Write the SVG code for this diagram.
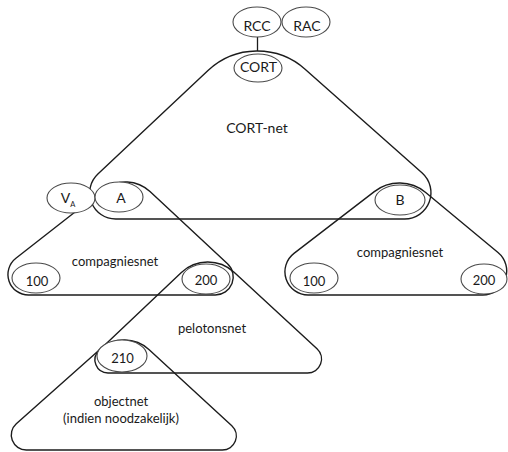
<svg xmlns="http://www.w3.org/2000/svg" width="508" height="452" viewBox="0 0 508 452">
  <style>
    .net { fill: none; stroke: #1c1c1c; stroke-width: 1.4; stroke-linejoin: round; }
    .stn { fill: #ffffff; stroke: #4a4a4a; stroke-width: 1.1; }
    .lbl { font-family: Lato, "Open Sans", "Liberation Sans", sans-serif; fill: #1a1a1a; text-anchor: middle; }
    .big { font-size: 14px; }
    .mid { font-size: 13px; }
    .sub { font-size: 7.5px; }
    .conn { stroke: #1c1c1c; stroke-width: 1.3; fill: none; }
  </style>

  <rect width="508" height="452" fill="#ffffff"/>

  <!-- network areas (rounded triangles) -->
  <g id="cort-net">
    <path class="net" d="M 208 70.5 A 72 72 0 0 1 305.1 69.2 L 422.2 173.1 A 26.3 26.3 0 0 1 404.7 219 L 115.7 219 A 26 26 0 0 1 97.9 174 Z"/>
    <text class="lbl big" x="257" y="133">CORT-net</text>
  </g>
  <g id="compagniesnet-a">
    <path class="net" d="M 103.8 189.5 A 35.6 35.6 0 0 1 150 191.6 L 227.5 263.8 A 18 18 0 0 1 215.2 295 L 28.5 295 A 20.5 20.5 0 0 1 15.9 258.3 Z"/>
    <text class="lbl mid" x="115" y="266">compagniesnet</text>
  </g>
  <g id="compagniesnet-b">
    <path class="net" d="M 374.3 191.6 A 41.2 41.2 0 0 1 425.7 192.5 L 498 252.5 A 24 24 0 0 1 482.7 295 L 308.2 295 A 23.2 23.2 0 0 1 294 253.4 Z"/>
    <text class="lbl mid" x="400" y="257">compagniesnet</text>
  </g>
  <g id="pelotonsnet">
    <path class="net" d="M 181.1 272.7 A 38.8 38.8 0 0 1 234.1 272.3 L 317 348.7 A 14 14 0 0 1 307.5 373 L 108 373 A 13 13 0 0 1 99 350.6 Z"/>
    <text class="lbl mid" x="212" y="333">pelotonsnet</text>
  </g>
  <g id="objectnet">
    <path class="net" d="M 100.1 349.3 A 36.6 36.6 0 0 1 149.2 349.7 L 231.8 425.7 A 14 14 0 0 1 222.3 450 L 26.3 450 A 15 15 0 0 1 16.3 423.8 Z"/>
    <text class="lbl mid" x="121" y="406">objectnet</text>
    <text class="lbl mid" x="121" y="423">(indien noodzakelijk)</text>
  </g>

  <!-- connectors -->
  <g id="connectors">
    <line class="conn" x1="257.5" y1="37" x2="257.5" y2="51"/>
  </g>

  <!-- stations -->
  <g id="rcc">
    <ellipse class="stn" cx="257" cy="22" rx="24" ry="15"/>
    <text class="lbl big" x="257" y="31">RCC</text>
  </g>
  <g id="rac">
    <ellipse class="stn" cx="306" cy="22" rx="24" ry="15"/>
    <text class="lbl big" x="307" y="31">RAC</text>
  </g>
  <g id="cort">
    <ellipse class="stn" cx="258" cy="68" rx="24" ry="14"/>
    <text class="lbl big" x="258.5" y="72">CORT</text>
  </g>
  <g id="va">
    <ellipse class="stn" cx="71" cy="198" rx="24" ry="15"/>
    <text class="lbl big" x="68" y="203">V<tspan class="sub" dy="4">A</tspan></text>
  </g>
  <g id="a">
    <ellipse class="stn" cx="119" cy="197" rx="24" ry="15"/>
    <text class="lbl big" x="121" y="203">A</text>
  </g>
  <g id="b">
    <ellipse class="stn" cx="400" cy="200" rx="25" ry="15"/>
    <text class="lbl big" x="400" y="205">B</text>
  </g>
  <g id="n100-a">
    <ellipse class="stn" cx="36" cy="278" rx="24" ry="15"/>
    <text class="lbl mid" x="37" y="286">100</text>
  </g>
  <g id="n200-a">
    <ellipse class="stn" cx="206" cy="279" rx="24" ry="15"/>
    <text class="lbl mid" x="206" y="285">200</text>
  </g>
  <g id="n100-b">
    <ellipse class="stn" cx="314" cy="278" rx="24" ry="15"/>
    <text class="lbl mid" x="314" y="286">100</text>
  </g>
  <g id="n200-b">
    <ellipse class="stn" cx="484" cy="279" rx="23" ry="15"/>
    <text class="lbl mid" x="484" y="285">200</text>
  </g>
  <g id="n210">
    <ellipse class="stn" cx="122" cy="356" rx="25" ry="16"/>
    <text class="lbl mid" x="122.5" y="363">210</text>
  </g>
</svg>
